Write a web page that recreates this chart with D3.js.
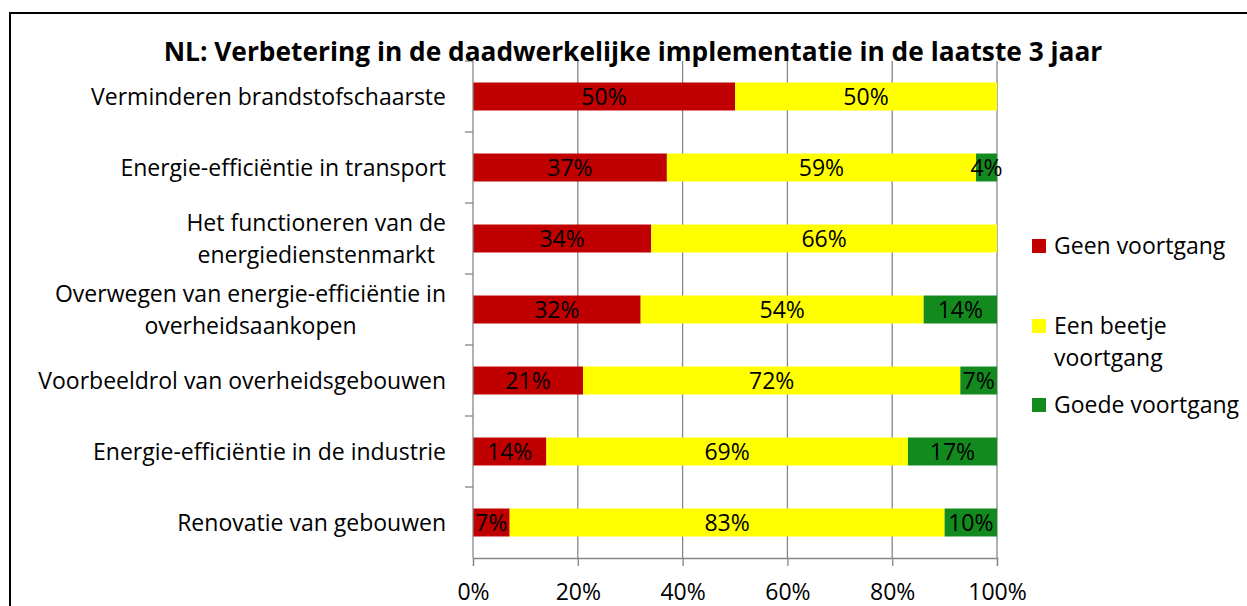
<!DOCTYPE html>
<html>
<head>
<meta charset="utf-8">
<script src="https://cdnjs.cloudflare.com/ajax/libs/d3/7.8.5/d3.min.js"></script>
<style>
    body { margin: 0; background: #ffffff; }
    #space { width: 1247px; height: 606px; }
</style>
</head>
<body>
<div id="space"></div>
<script>
var chart_title = "NL: Verbetering in de daadwerkelijke implementatie in de laatste 3 jaar";

// category labels, top to bottom ("\n" = line break as in the original)
var categories = [
    "Verminderen brandstofschaarste",
    "Energie-efficiëntie in transport",
    "Het functioneren van de\nenergiedienstenmarkt",
    "Overwegen van energie-efficiëntie in\noverheidsaankopen",
    "Voorbeeldrol van overheidsgebouwen",
    "Energie-efficiëntie in de industrie",
    "Renovatie van gebouwen"
];

var geen_voortgang = [50, 37, 34, 32, 21, 14, 7];
var beetje_voortgang = [50, 59, 66, 54, 72, 69, 83];
var goede_voortgang = [0, 4, 0, 14, 7, 17, 10];

var series_keys = ["geen", "beetje", "goede"];
var series_names = ["Geen voortgang", "Een beetje\nvoortgang", "Goede voortgang"];
var series_colors = ["#C00000", "#FFFF00", "#138A1E"];

var x_ticks = [0, 20, 40, 60, 80, 100];

var svg, x, y;
var font = "'Open Sans', sans-serif";
var font_size = 23;

init();

function init() {
    svg = d3.select("#space").append("svg")
        .attr("width", 1247)
        .attr("height", 606);

    //Outer chart border
    svg.append("rect")
        .attr("x", 10).attr("y", 13)
        .attr("width", 1260).attr("height", 700)
        .attr("fill", "#ffffff")
        .attr("stroke", "#000000")
        .attr("stroke-width", 2);

    x = d3.scaleLinear().domain([0, 100]).range([473, 997]);
    y = d3.scaleBand().domain(categories).range([61, 558])
        .paddingInner(0.606).paddingOuter(0.303);

    drawGrid();
    drawBars();
    drawAxes();
    drawLegend();
    drawTitle();
}

function drawGrid() {
    svg.append("g").attr("class", "grid")
        .selectAll("line")
        .data(x_ticks.slice(1))
        .enter().append("line")
        .attr("x1", function (d) { return x(d); })
        .attr("x2", function (d) { return x(d); })
        .attr("y1", y.range()[0])
        .attr("y2", y.range()[1])
        .attr("stroke", "#878787")
        .attr("stroke-width", 1.3);
}

function drawBars() {
    var table = categories.map(function (c, i) {
        return { cat: c, geen: geen_voortgang[i], beetje: beetje_voortgang[i], goede: goede_voortgang[i] };
    });
    var stacked = d3.stack().keys(series_keys)(table);

    var layers = svg.append("g").attr("class", "bars")
        .selectAll("g")
        .data(stacked)
        .enter().append("g")
        .attr("fill", function (d, i) { return series_colors[i]; });

    layers.selectAll("rect")
        .data(function (d) { return d; })
        .enter().append("rect")
        .attr("x", function (d) { return x(d[0]); })
        .attr("y", function (d) { return y(d.data.cat); })
        .attr("width", function (d) { return x(d[1]) - x(d[0]); })
        .attr("height", y.bandwidth());

    //Value labels
    layers.selectAll("text")
        .data(function (d) { return d.filter(function (v) { return v[1] - v[0] > 0; }); })
        .enter().append("text")
        .attr("x", function (d) { return (x(d[0]) + x(d[1])) / 2; })
        .attr("y", function (d) { return y(d.data.cat) + y.bandwidth() / 2; })
        .attr("dy", "0.35em")
        .attr("text-anchor", "middle")
        .attr("font-family", font)
        .attr("font-size", font_size)
        .attr("fill", "#000000")
        .text(function (d) { return (d[1] - d[0]) + "%"; });
}

function drawAxes() {
    var x_axis = d3.axisBottom(x)
        .tickValues(x_ticks)
        .tickSize(8)
        .tickPadding(18)
        .tickFormat(function (d) { return d + "%"; });

    var gx = svg.append("g")
        .attr("transform", "translate(0," + y.range()[1] + ")")
        .call(x_axis);
    gx.select(".domain").attr("stroke", "#878787").attr("stroke-width", 1.3);
    gx.selectAll(".tick line").attr("stroke", "#878787").attr("stroke-width", 1.3);
    gx.selectAll(".tick text")
        .attr("font-family", font)
        .attr("font-size", font_size)
        .attr("fill", "#000000");

    //Left axis line with ticks on band boundaries
    var g = svg.append("g").attr("class", "yaxis");
    g.append("line")
        .attr("x1", x(0)).attr("x2", x(0))
        .attr("y1", y.range()[0]).attr("y2", y.range()[1])
        .attr("stroke", "#878787").attr("stroke-width", 1.3);

    var off = y.step() * y.paddingOuter();
    g.selectAll(".bound")
        .data(categories)
        .enter().append("line")
        .attr("class", "bound")
        .attr("x1", x(0) - 8).attr("x2", x(0))
        .attr("y1", function (d) { return y(d) - off; })
        .attr("y2", function (d) { return y(d) - off; })
        .attr("stroke", "#878787").attr("stroke-width", 1.3);

    //Category labels (multi-line labels centred on each other, block right aligned)
    var labels = g.selectAll(".cat")
        .data(categories)
        .enter().append("text")
        .attr("class", "cat")
        .attr("font-family", font)
        .attr("font-size", font_size)
        .attr("fill", "#000000")
        .attr("text-anchor", "end");

    labels.each(function (d) {
        var lines = d.split("\n");
        var cy = y(d) + y.bandwidth() / 2;
        var el = d3.select(this);
        if (lines.length == 1) {
            el.attr("x", 446).attr("y", cy).attr("dy", "0.35em").text(d);
        } else {
            el.attr("text-anchor", "middle");
            var tmp = [];
            lines.forEach(function (l, i) {
                tmp.push(el.append("tspan")
                    .attr("y", cy + (i - (lines.length - 1) / 2) * 32)
                    .attr("dy", "0.35em")
                    .text(l));
            });
            var w = d3.max(tmp, function (t) { return t.node().getComputedTextLength(); });
            tmp.forEach(function (t) { t.attr("x", 446 - w / 2); });
        }
    });
}

function drawLegend() {
    var legend_y = [246, 326, 405];
    var lg = svg.append("g").attr("class", "legend")
        .selectAll("g")
        .data(series_names)
        .enter().append("g")
        .attr("transform", function (d, i) { return "translate(1032," + legend_y[i] + ")"; });

    lg.append("rect")
        .attr("x", 0).attr("y", -7)
        .attr("width", 14).attr("height", 14)
        .attr("fill", function (d, i) { return series_colors[i]; });

    lg.append("text")
        .attr("font-family", font)
        .attr("font-size", font_size)
        .attr("fill", "#000000")
        .selectAll("tspan")
        .data(function (d) { return d.split("\n"); })
        .enter().append("tspan")
        .attr("x", 22)
        .attr("y", function (d, i) { return i * 32; })
        .attr("dy", "0.35em")
        .text(function (d) { return d; });
}

function drawTitle() {
    svg.append("text")
        .attr("x", 633)
        .attr("y", 61)
        .attr("text-anchor", "middle")
        .attr("font-family", font)
        .attr("font-weight", "bold")
        .attr("font-size", 26.3)
        .attr("fill", "#000000")
        .text(chart_title);
}
</script>
</body>
</html>
